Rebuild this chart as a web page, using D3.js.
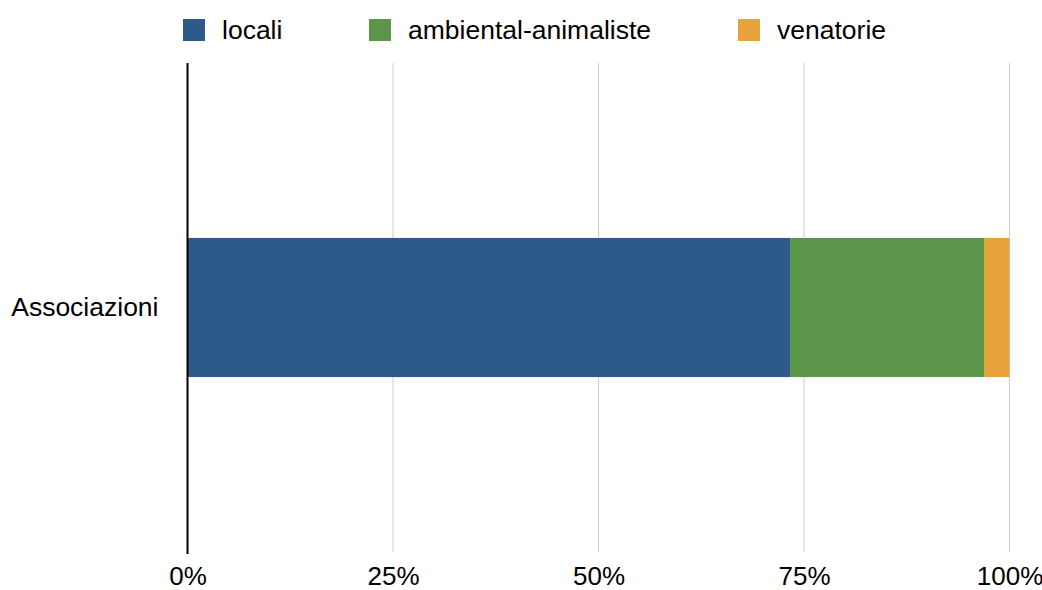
<!DOCTYPE html>
<html>
<head>
<meta charset="utf-8">
<script src="https://cdn.jsdelivr.net/npm/d3@7"></script>
<style>
  html, body { margin: 0; padding: 0; background: #fff; }
  text { font-family: "Liberation Sans", Arial, Helvetica, sans-serif; fill: #000; }
</style>
</head>
<body>
<svg id="chart" width="1042" height="590"></svg>
<script>
// Stacked percentage bar: composition of associations by type
const categories = ["Associazioni"];
const seriesNames = ["locali", "ambiental-animaliste", "venatorie"];
const locali = [73.3];
const ambientalAnimaliste = [23.6];
const venatorie = [3.1];
const tickValues = [0, 25, 50, 75, 100];
const colors = ["#2E5A8A", "#5C964A", "#E8A23C"];

const seriesValues = [locali, ambientalAnimaliste, venatorie];
const rows = categories.map((c, i) => {
  const r = { category: c };
  seriesNames.forEach((s, j) => { r[s] = seriesValues[j][i]; });
  return r;
});

const svg = d3.select("#chart");
const margin = { top: 63, left: 187.5 };
const plotBottom = 552;

const x = d3.scaleLinear().domain([0, 100]).range([margin.left, 1009.5]);
const y = d3.scaleBand().domain(categories).range([margin.top, plotBottom]).padding(0.557);
const color = d3.scaleOrdinal().domain(seriesNames).range(colors);

// Vertical gridlines
svg.append("g")
  .selectAll("line")
  .data(tickValues.filter(t => t !== 0))
  .join("line")
  .attr("x1", d => x(d)).attr("x2", d => x(d))
  .attr("y1", margin.top).attr("y2", plotBottom)
  .attr("stroke", "#cccccc").attr("stroke-width", 1);

// Stacked bars
const stack = d3.stack().keys(seriesNames);
const layers = stack(rows);
svg.append("g")
  .selectAll("g")
  .data(layers)
  .join("g")
  .attr("fill", d => color(d.key))
  .selectAll("rect")
  .data(d => d)
  .join("rect")
  .attr("x", d => x(d[0]))
  .attr("width", d => x(d[1]) - x(d[0]))
  .attr("y", d => y(d.data.category))
  .attr("height", y.bandwidth());

// Zero axis line
svg.append("line")
  .attr("x1", x(0)).attr("x2", x(0))
  .attr("y1", margin.top).attr("y2", plotBottom + 2)
  .attr("stroke", "#000").attr("stroke-width", 2);

// Bottom tick labels
const xAxis = d3.axisBottom(x).tickValues(tickValues).tickFormat(d => d + "%").tickSize(0).tickPadding(0);
const gx = svg.append("g").attr("transform", `translate(0, ${plotBottom + 15})`).call(xAxis);
gx.select(".domain").remove();
gx.selectAll("text")
  .attr("font-size", 26)
  .attr("font-family", "'Liberation Sans', Arial, sans-serif")
  .attr("fill", "#000");

// Category label
const yAxis = d3.axisLeft(y).tickSize(0).tickPadding(29);
const gy = svg.append("g").attr("transform", `translate(${margin.left}, 0)`).call(yAxis);
gy.select(".domain").remove();
gy.selectAll("text")
  .attr("font-size", 26.5)
  .attr("font-family", "'Liberation Sans', Arial, sans-serif")
  .attr("fill", "#000");

// Legend
const legendX = [183, 369, 738];
const legend = svg.append("g");
const items = legend.selectAll("g")
  .data(seriesNames)
  .join("g")
  .attr("transform", (d, i) => `translate(${legendX[i]}, 19)`);
items.append("rect")
  .attr("width", 22).attr("height", 22)
  .attr("fill", d => color(d));
items.append("text")
  .attr("x", 39).attr("y", 11)
  .attr("dy", "0.35em")
  .attr("font-size", 26.5)
  .text(d => d);
</script>
</body>
</html>
